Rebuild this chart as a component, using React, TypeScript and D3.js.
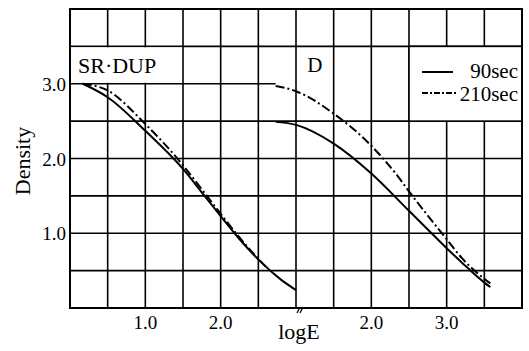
import React from 'react';
import * as d3 from 'd3';

// curves: [logE, density]
const srDup90 = [[0.17, 3.0], [0.5, 2.82], [1.0, 2.37], [1.5, 1.86], [1.77, 1.52], [2.0, 1.23], [2.26, 0.91], [2.55, 0.6], [2.8, 0.38], [3.0, 0.24]];
const srDup210 = [[0.17, 3.0], [0.5, 2.91], [1.0, 2.46], [1.5, 1.91], [1.77, 1.56], [2.0, 1.26], [2.26, 0.93], [2.6, 0.55]];
const d90 = [[0.73, 2.49], [1.0, 2.45], [1.5, 2.2], [2.0, 1.8], [2.5, 1.3], [2.8, 1.0], [3.0, 0.8], [3.2, 0.61], [3.5, 0.34], [3.58, 0.28]];
const d210 = [[0.73, 2.97], [1.0, 2.9], [1.5, 2.6], [2.0, 2.17], [2.33, 1.79], [2.5, 1.56], [3.0, 0.92], [3.2, 0.67], [3.5, 0.39], [3.58, 0.33]];

const leftTicks = ['1.0', '2.0'];
const rightTicks = ['2.0', '3.0'];
const yTicks = ['1.0', '2.0', '3.0'];
const legendLabels = ['90sec', '210sec'];

const W = 529, H = 351;
const L = 70, R = 522, T = 9, B = 308;
const font = "'Liberation Serif', 'DejaVu Serif', serif";
const dashDot = '9,3,2,3';

export default function App() {
  const xL = d3.scaleLinear().domain([0, 3]).range([L, (L + R) / 2]);
  const xR = d3.scaleLinear().domain([1, 4]).range([(L + R) / 2, R]);
  const y = d3.scaleLinear().domain([0, 4]).range([B, T]);

  const lineL = d3.line<number[]>().x(d => xL(d[0])).y(d => y(d[1])).curve(d3.curveMonotoneX);
  const lineR = d3.line<number[]>().x(d => xR(d[0])).y(d => y(d[1])).curve(d3.curveMonotoneX);

  const vx = [...d3.range(0.5, 3.01, 0.5).map(v => xL(v)), ...d3.range(1.5, 3.6, 0.5).map(v => xR(v))];
  const hy = d3.range(0.5, 3.6, 0.5);

  return (
    <svg width={W} height={H} style={{ position: 'absolute', left: 0, top: 0, background: '#fff', fontFamily: font }}>
      <g stroke="#000" strokeWidth={1.6}>
        {vx.map((x, i) => <line key={'v' + i} x1={x} x2={x} y1={T} y2={B} />)}
        {hy.map((v, i) => (
          <line key={'h' + i} x1={L} x2={v === 3 ? xR(0.73) : R} y1={y(v)} y2={y(v)} />
        ))}
      </g>

      {/* label box behind SR-DUP and the legend box */}
      <rect x={L + 1} y={y(3.5) + 1} width={xL(1.5) - L - 2} height={y(3) - y(3.5) - 2} fill="#fff" />
      <rect x={xR(2.5)} y={y(3.5)} width={R - xR(2.5)} height={y(2.5) - y(3.5)} fill="#fff" stroke="#000" strokeWidth={1.6} />

      <rect x={L} y={T} width={R - L} height={B - T} fill="none" stroke="#000" strokeWidth={2} />

      <g fill="none" stroke="#000" strokeWidth={2}>
        <path d={lineL(srDup90) || ''} />
        <path d={lineL(srDup210) || ''} strokeDasharray={dashDot} />
        <path d={lineR(d90) || ''} />
        <path d={lineR(d210) || ''} strokeDasharray={dashDot} />
      </g>

      {/* axis break mark */}
      <g stroke="#000" strokeWidth={1.3}>
        <line x1={xL(3) + 1} y1={B + 5} x2={xL(3) + 4} y2={B - 1} />
        <line x1={xL(3) + 4} y1={B + 5} x2={xL(3) + 7} y2={B - 1} />
      </g>

      <g fill="#000" style={{ fontFamily: font }}>
        {leftTicks.map(t => (
          <text key={'l' + t} x={xL(+t)} y={B + 21} fontSize={19} textAnchor="middle">{t}</text>
        ))}
        {rightTicks.map(t => (
          <text key={'r' + t} x={xR(+t)} y={B + 21} fontSize={19} textAnchor="middle">{t}</text>
        ))}
        {yTicks.map(t => (
          <text key={'y' + t} x={L - 4} y={y(+t) + 7} fontSize={19} textAnchor="end">{t}</text>
        ))}
        <text x={xL(3) + 3} y={339} fontSize={22} textAnchor="middle">logE</text>
        <text transform={`translate(30,${161}) rotate(-90)`} fontSize={22} textAnchor="middle">Density</text>
        <text x={78} y={73} fontSize={22}>SR·DUP</text>
        <text x={xR(1.25)} y={72} fontSize={21} textAnchor="middle">D</text>

        <line x1={422} x2={453} y1={72} y2={72} stroke="#000" strokeWidth={2} />
        <text x={518} y={78} fontSize={21} textAnchor="end">{legendLabels[0]}</text>
        <line x1={422} x2={458} y1={93} y2={93} stroke="#000" strokeWidth={2} strokeDasharray="6,2,2,2" />
        <text x={518} y={101} fontSize={21} textAnchor="end">{legendLabels[1]}</text>
      </g>
    </svg>
  );
}
